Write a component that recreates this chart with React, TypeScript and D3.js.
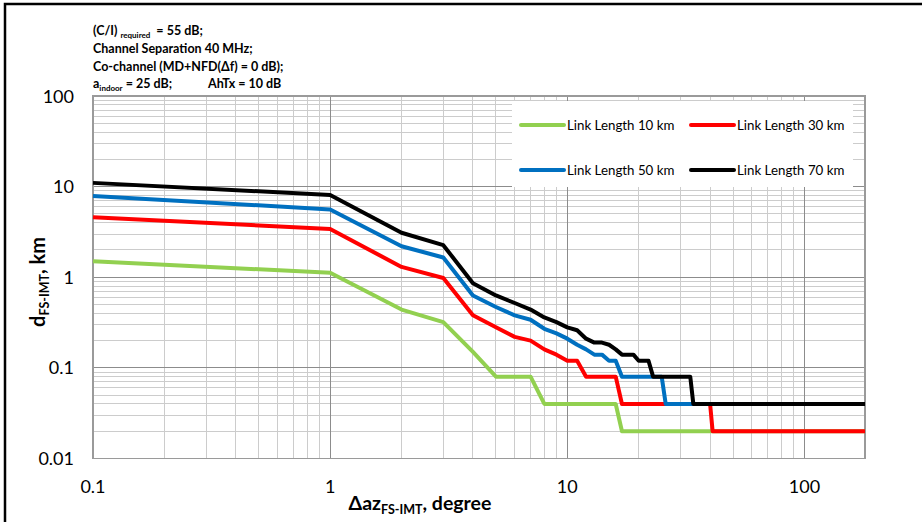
import React from "react";
import * as d3 from "d3";

const W = 922;
const H = 522;

const xTickLabels = ["0.1", "1", "10", "100"];
const yTickLabels = ["0.01", "0.1", "1", "10", "100"];

const seriesNames = ["Link Length 10 km", "Link Length 30 km", "Link Length 50 km", "Link Length 70 km"];
const seriesColors = ["#92D050", "#FF0000", "#0070C0", "#000000"];

const greenX = [0.1, 1, 2, 3, 4, 5, 7, 8, 16, 17, 180];
const greenY = [1.5, 1.12, 0.44, 0.32, 0.15, 0.08, 0.08, 0.04, 0.04, 0.02, 0.02];

const redX = [0.1, 1, 2, 3, 4, 5, 6, 7, 8, 9, 10, 11, 12, 16, 17, 40, 41, 180];
const redY = [4.6, 3.4, 1.3, 0.98, 0.38, 0.28, 0.22, 0.2, 0.16, 0.14, 0.12, 0.12, 0.08, 0.08, 0.04, 0.04, 0.02, 0.02];

const blueX = [0.1, 1, 2, 3, 4, 5, 6, 7, 8, 9, 10, 11, 12, 13, 14, 15, 16, 17, 25, 26, 180];
const blueY = [7.9, 5.6, 2.2, 1.65, 0.63, 0.47, 0.38, 0.34, 0.27, 0.24, 0.21, 0.18, 0.16, 0.14, 0.14, 0.12, 0.12, 0.08, 0.08, 0.04, 0.04];

const blackX = [0.1, 1, 2, 3, 4, 5, 6, 7, 8, 9, 10, 11, 12, 13, 14, 15, 16, 17, 18, 19, 20, 21, 22, 23, 33, 34, 180];
const blackY = [11, 8.1, 3.1, 2.26, 0.86, 0.63, 0.52, 0.44, 0.36, 0.32, 0.28, 0.26, 0.21, 0.19, 0.19, 0.18, 0.16, 0.14, 0.14, 0.14, 0.12, 0.12, 0.12, 0.08, 0.08, 0.04, 0.04];

const seriesXs = [greenX, redX, blueX, blackX];
const seriesYs = [greenY, redY, blueY, blackY];

const plot = { left: 93, right: 865, top: 96, bottom: 458.5 };

export default function App() {
  const x = d3.scaleLog().domain([0.1, 180]).range([plot.left, plot.right]);
  const y = d3.scaleLog().domain([0.01, 100]).range([plot.bottom, plot.top]);

  const xMinor: number[] = [];
  for (let e = -1; e <= 2; e++) {
    for (let m = 2; m <= 9; m++) {
      const v = m * Math.pow(10, e);
      if (v < 180) xMinor.push(v);
    }
  }
  const xMajor = [1, 10, 100];
  const yMinor: number[] = [];
  for (let e = -2; e <= 1; e++) {
    for (let m = 2; m <= 9; m++) yMinor.push(m * Math.pow(10, e));
  }
  const yMajor = [0.1, 1, 10];

  const line = d3
    .line<[number, number]>()
    .x((d) => x(d[0]))
    .y((d) => y(d[1]));

  const font = "Lato, 'Open Sans', sans-serif";
  const minorC = "#cccccc";
  const majorC = "#8c8c8c";

  const legendRows = [125, 170];
  const legendCols = [521, 691];

  return (
    <div style={{ position: "absolute", left: 0, top: 0 }}>
      <svg width={W} height={H} style={{ display: "block", background: "#fff" }} fontFamily={font}>
        <rect x={5} y={4} width={960} height={600} fill="#fff" stroke="#000" strokeWidth={2.5} />

        {/* title block */}
        <g fontWeight="bold" fontSize={12.5} fill="#000">
          <text x={93} y={35}>
            (C/I)
            <tspan fontSize={8} dy={3} dx={3}>required</tspan>
            <tspan dy={-3} dx={3}> = 55 dB;</tspan>
          </text>
          <text x={93} y={53}>Channel Separation 40 MHz;</text>
          <text x={93} y={71}>Co-channel (MD+NFD(Δf) = 0 dB);</text>
          <text x={93} y={88}>
            a<tspan fontSize={8} dy={3}>indoor</tspan>
            <tspan dy={-3}> = 25 dB;</tspan>
          </text>
          <text x={208} y={88}>AhTx = 10 dB</text>
        </g>

        {/* gridlines */}
        <g shapeRendering="crispEdges">
          {yMinor.map((v, i) => (
            <line key={"ym" + i} x1={plot.left} x2={plot.right} y1={y(v)} y2={y(v)} stroke={minorC} strokeWidth={1} />
          ))}
          {xMinor.map((v, i) => (
            <line key={"xm" + i} x1={x(v)} x2={x(v)} y1={plot.top} y2={plot.bottom} stroke={minorC} strokeWidth={1} />
          ))}
          {yMajor.map((v, i) => (
            <line key={"yM" + i} x1={plot.left} x2={plot.right} y1={y(v)} y2={y(v)} stroke={majorC} strokeWidth={1} />
          ))}
          {xMajor.map((v, i) => (
            <line key={"xM" + i} x1={x(v)} x2={x(v)} y1={plot.top} y2={plot.bottom} stroke={majorC} strokeWidth={1} />
          ))}
          <rect
            x={plot.left}
            y={plot.top}
            width={plot.right - plot.left}
            height={plot.bottom - plot.top}
            fill="none"
            stroke="#9a9a9a"
            strokeWidth={1.5}
          />
        </g>

        {/* legend background */}
        <rect x={512} y={101} width={341} height={86} fill="#fff" />

        {/* series */}
        {seriesXs.map((xs, i) => (
          <path
            key={"s" + i}
            d={line(xs.map((xv, j) => [xv, seriesYs[i][j]] as [number, number])) || ""}
            fill="none"
            stroke={seriesColors[i]}
            strokeWidth={4}
            strokeLinejoin="round"
          />
        ))}

        {/* legend */}
        {seriesNames.map((name, i) => {
          const lx = legendCols[i % 2];
          const ly = legendRows[Math.floor(i / 2)];
          return (
            <g key={"lg" + i}>
              <line x1={lx} x2={lx + 43} y1={ly} y2={ly} stroke={seriesColors[i]} strokeWidth={4} strokeLinecap="round" />
              <text x={lx + 46} y={ly + 4.5} fontSize={13.3} fill="#000">
                {name}
              </text>
            </g>
          );
        })}

        {/* y tick labels */}
        {yTickLabels.map((t, i) => (
          <text key={"yt" + i} x={74} y={y(+t) + 6.5} textAnchor="end" fontSize={18} fill="#000">
            {t}
          </text>
        ))}
        {/* x tick labels */}
        {xTickLabels.map((t, i) => (
          <text key={"xt" + i} x={x(+t)} y={493} textAnchor="middle" fontSize={18} fill="#000">
            {t}
          </text>
        ))}

        {/* axis titles */}
        <text x={420} y={510} textAnchor="middle" fontWeight="bold" fontSize={19.5} fill="#000">
          Δaz<tspan fontSize={12.5} dy={4}>FS-IMT</tspan>
          <tspan dy={-4}>, degree</tspan>
        </text>
        <text
          transform="translate(45,282) rotate(-90)"
          textAnchor="middle"
          fontWeight="bold"
          fontSize={20}
          fill="#000"
        >
          d<tspan fontSize={12.5} dy={4}>FS-IMT</tspan>
          <tspan dy={-4}>, km</tspan>
        </text>
      </svg>
    </div>
  );
}
